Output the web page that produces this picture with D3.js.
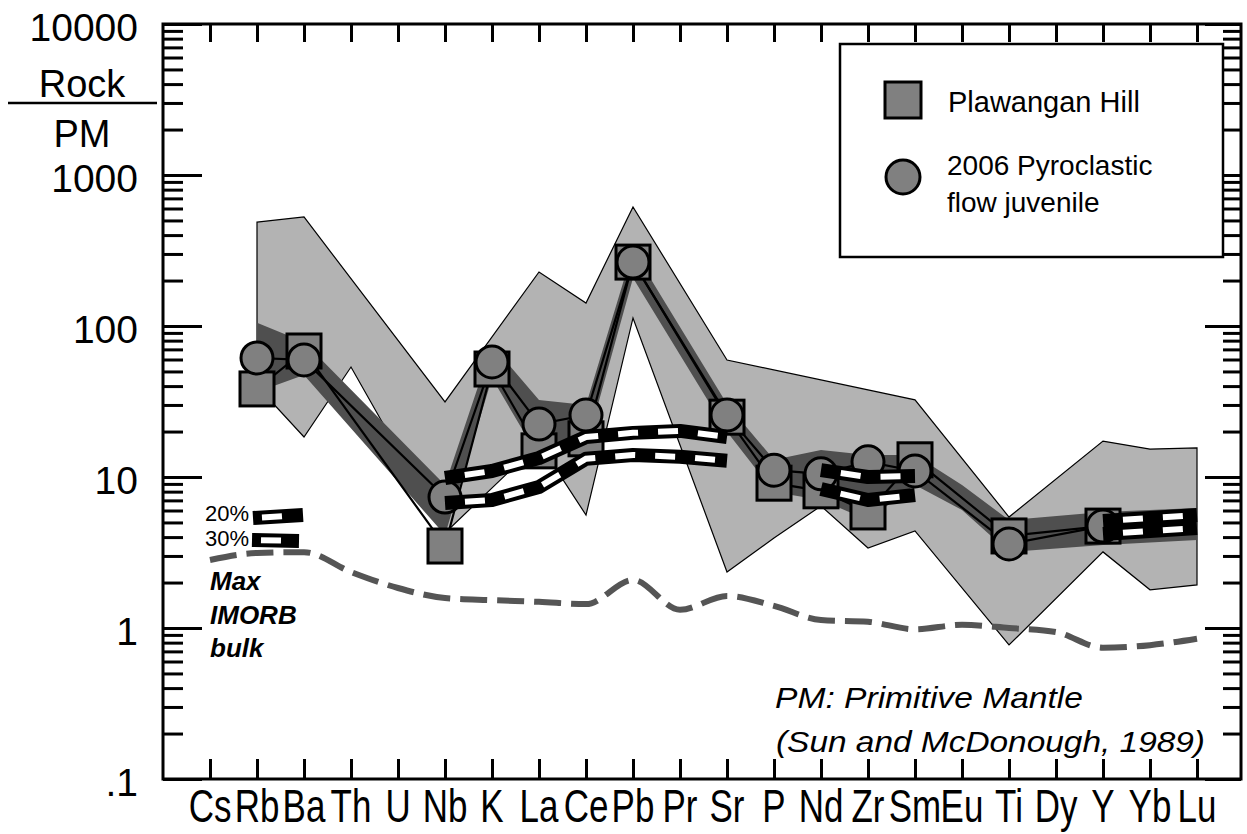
<!DOCTYPE html>
<html>
<head>
<meta charset="utf-8">
<script src="https://cdn.jsdelivr.net/npm/d3@7"></script>
<style>
  html, body { margin: 0; padding: 0; background: #fff; }
  svg { display: block; }
  text { font-family: "Liberation Sans", Arial, Helvetica, sans-serif; fill: #000; }
</style>
</head>
<body>
<svg id="chart" width="1247" height="834"></svg>
<script>
// Primitive-mantle normalised trace element patterns (Sun & McDonough, 1989)
const elements = ["Cs","Rb","Ba","Th","U","Nb","K","La","Ce","Pb","Pr","Sr","P","Nd","Zr","Sm","Eu","Ti","Dy","Y","Yb","Lu"];

// Sample averages (Rock / PM)
const plawanganHill   = [null,38.3,68.3,null,null,3.49,51.9,14.9,17.9,265,null,24.9,9.1,8.1,5.87,13.0,null,4.07,null,4.73,null,null];
const pyroclastic2006 = [null,61.4,59.6,null,null,7.37,57.8,22.4,25.7,265,null,25.7,11.1,10.5,12.6,10.96,null,3.6,null,4.73,null,null];

// Wide envelope of Merapi compositions (light grey field)
const envelopeUpper = [null,488,527,null,null,31.4,null,228,142,614,null,59.5,null,null,null,32.4,null,5.43,null,17.3,15.3,15.6];
const envelopeLower = [null,40.1,18.4,53.5,null,4.26,null,16.8,5.6,113,null,2.35,3.94,6.43,3.39,4.39,null,0.772,null,3.19,1.79,1.93];

// Sample range field (dark grey field)
const rangeUpper = [null,105,78.3,null,null,8.85,74.8,32.4,30.0,319,null,30.4,13.0,15.1,14.0,14.0,8.85,5.19,null,5.87,null,6.23];
const rangeLower = [null,36.5,47.4,null,null,4.13,45.2,13.4,15.6,208,null,19.9,7.96,7.04,5.19,8.85,6.05,3.19,null,3.55,null,3.83];

// Partial melting models of max IMORB bulk composition
const melt20 = [null,null,null,null,null,9.85,10.96,13.36,18.4,19.6,20.2,18.4,null,11.1,10.0,10.15,null,null,null,5.11,5.35,5.60];
const melt30 = [null,null,null,null,null,6.73,7.04,8.59,13.2,14.0,13.6,12.8,null,8.33,7.04,7.60,null,null,null,4.19,4.39,4.59];

// Max IMORB bulk composition
const imorbBulk = [2.82,3.14,3.18,2.35,1.84,1.58,1.53,1.49,1.44,2.08,1.32,1.63,1.40,1.13,1.10,0.98,1.05,1.00,0.94,0.74,0.77,0.85];

// Axis tick labels
const yMajorTicks = [0.1,1,10,100,1000,10000];
const yMajorLabels = [".1","1","10","100","1000","10000"];

const svg = d3.select("#chart");
const frame = {left:163, right:1241, top:24, bottom:779};

const x = d3.scalePoint().domain(elements).range([210,1197]);
const y = d3.scaleLog().domain([0.1,10000]).range([frame.bottom, frame.top]);

const pts = arr => elements.map((e,i)=> arr[i]==null ? null : [x(e), y(arr[i])]).filter(Boolean);

function bandPath(upper, lower){
  const poly = pts(upper).concat(pts(lower).reverse());
  return "M" + poly.map(p=>p.join(",")).join("L") + "Z";
}

// segments broken at missing values
function segments(arr){
  const segs = []; let cur = [];
  elements.forEach((e,i)=>{
    if(arr[i]==null){ if(cur.length) segs.push(cur); cur=[]; }
    else cur.push([x(e), y(arr[i])]);
  });
  if(cur.length) segs.push(cur);
  return segs;
}

const g = svg.append("g");

// light grey envelope
g.append("path").attr("d", bandPath(envelopeUpper, envelopeLower))
  .attr("fill","#b3b3b3").attr("stroke","#000").attr("stroke-width",1.2).attr("stroke-linejoin","miter");

// dark grey sample field
g.append("path").attr("d", bandPath(rangeUpper, rangeLower))
  .attr("fill","#4f4f4f").attr("stroke","none");

// sample average lines
const lineGen = d3.line();
[plawanganHill, pyroclastic2006].forEach(arr=>{
  g.append("path").attr("d", lineGen(pts(arr)))
    .attr("fill","none").attr("stroke","#000").attr("stroke-width",2.2);
});

// square markers
g.selectAll("rect.plaw").data(elements.map((e,i)=>({e, v:plawanganHill[i]})).filter(d=>d.v!=null))
  .enter().append("rect").attr("class","plaw")
  .attr("x", d=>x(d.e)-17).attr("y", d=>y(d.v)-17).attr("width",34).attr("height",34)
  .attr("fill","#808080").attr("stroke","#000").attr("stroke-width",3);

// circle markers
g.selectAll("circle.pyro").data(elements.map((e,i)=>({e, v:pyroclastic2006[i]})).filter(d=>d.v!=null))
  .enter().append("circle").attr("class","pyro")
  .attr("cx", d=>x(d.e)).attr("cy", d=>y(d.v)).attr("r",16)
  .attr("fill","#808080").attr("stroke","#000").attr("stroke-width",3);

// striped melting model lines
function striped(points, offset){
  const d = lineGen(points);
  g.append("path").attr("d", d).attr("fill","none").attr("stroke","#000")
    .attr("stroke-width",14).attr("stroke-linejoin","round");
  g.append("path").attr("d", d).attr("fill","none").attr("stroke","#fff")
    .attr("stroke-width",6).attr("stroke-dasharray","20 20").attr("stroke-dashoffset",offset);
}
[melt20, melt30].forEach(arr=> segments(arr).forEach(s=> striped(s, 20)));

// max IMORB bulk dashed line
g.append("path").attr("d", d3.line().curve(d3.curveMonotoneX)(pts(imorbBulk)))
  .attr("fill","none").attr("stroke","#555").attr("stroke-width",6)
  .attr("stroke-dasharray","27 10");

// axes
const minorTicks = [];
[0.1,1,10,100,1000].forEach(dec=>{ for(let k=2;k<=9;k++) minorTicks.push(dec*k); });

function styleAxis(sel){
  sel.select(".domain").remove();
  sel.selectAll(".tick line").attr("stroke","#000").attr("stroke-width",3);
  sel.selectAll(".tick text").remove();
}
svg.append("g").attr("transform",`translate(${frame.left},0)`)
  .call(d3.axisRight(y).tickValues(minorTicks).tickSize(20)).call(styleAxis);
svg.append("g").attr("transform",`translate(${frame.left},0)`)
  .call(d3.axisRight(y).tickValues(yMajorTicks).tickSize(39)).call(styleAxis);
svg.append("g").attr("transform",`translate(${frame.right},0)`)
  .call(d3.axisLeft(y).tickValues(minorTicks).tickSize(18)).call(styleAxis);
svg.append("g").attr("transform",`translate(${frame.right},0)`)
  .call(d3.axisLeft(y).tickValues(yMajorTicks).tickSize(36)).call(styleAxis);
svg.append("g").attr("transform",`translate(0,${frame.top})`)
  .call(d3.axisBottom(x).tickSize(18)).call(styleAxis);
svg.append("g").attr("transform",`translate(0,${frame.bottom})`)
  .call(d3.axisTop(x).tickSize(20)).call(styleAxis);

// plot frame
svg.append("rect").attr("x",frame.left).attr("y",frame.top)
  .attr("width",frame.right-frame.left).attr("height",frame.bottom-frame.top)
  .attr("fill","none").attr("stroke","#000").attr("stroke-width",3);

// y tick labels
svg.selectAll("text.ylab").data(yMajorTicks).enter().append("text").attr("class","ylab")
  .attr("x",138).attr("y", d=>y(d)+17).attr("text-anchor","end")
  .attr("font-size",39).text((d,i)=>yMajorLabels[i]);

// x category labels (condensed)
svg.selectAll("text.xlab").data(elements).enter().append("text").attr("class","xlab")
  .attr("transform", d=>`translate(${x(d)},822) scale(0.76,1)`)
  .attr("text-anchor","middle").attr("font-size",46).text(d=>d);

// y axis title (Rock / PM)
svg.append("text").attr("x",82).attr("y",97).attr("text-anchor","middle").attr("font-size",38).text("Rock");
svg.append("line").attr("x1",8).attr("x2",157).attr("y1",103).attr("y2",103).attr("stroke","#000").attr("stroke-width",2.5);
svg.append("text").attr("x",82).attr("y",147).attr("text-anchor","middle").attr("font-size",38).text("PM");

// melting model key
function keyBar(x1,y1,x2,y2){
  const d = `M${x1},${y1}L${x2},${y2}`;
  svg.append("path").attr("d",d).attr("stroke","#000").attr("stroke-width",14);
  svg.append("path").attr("d",d).attr("stroke","#fff").attr("stroke-width",6)
    .attr("stroke-dasharray","20 30").attr("stroke-dashoffset",-9);
}
keyBar(253,518,303,515);
keyBar(252,540,299,541);
svg.append("text").attr("x",249).attr("y",521).attr("text-anchor","end").attr("font-size",22).text("20%");
svg.append("text").attr("x",249).attr("y",546).attr("text-anchor","end").attr("font-size",22).text("30%");

// IMORB label
[["Max",590],["IMORB",624],["bulk",657]].forEach(([t,yy])=>{
  svg.append("text").attr("x",210).attr("y",yy).attr("font-size",26)
    .attr("font-weight","bold").attr("font-style","italic").text(t);
});

// normalisation note
svg.append("text").attr("x",775).attr("y",708).attr("font-size",29).attr("font-style","italic")
  .attr("textLength",308).attr("lengthAdjust","spacingAndGlyphs").text("PM: Primitive Mantle");
svg.append("text").attr("x",776).attr("y",752).attr("font-size",29).attr("font-style","italic")
  .attr("textLength",429).attr("lengthAdjust","spacingAndGlyphs").text("(Sun and McDonough, 1989)");

// legend
const lg = svg.append("g");
lg.append("rect").attr("x",840).attr("y",44).attr("width",383).attr("height",213)
  .attr("fill","#fff").attr("stroke","#000").attr("stroke-width",2.5);
lg.append("rect").attr("x",885).attr("y",82).attr("width",36).attr("height",36)
  .attr("fill","#808080").attr("stroke","#000").attr("stroke-width",3);
lg.append("circle").attr("cx",903).attr("cy",177).attr("r",17)
  .attr("fill","#808080").attr("stroke","#000").attr("stroke-width",3);
lg.append("text").attr("x",948).attr("y",112).attr("font-size",29).text("Plawangan Hill");
lg.append("text").attr("x",947).attr("y",175).attr("font-size",28).text("2006 Pyroclastic");
lg.append("text").attr("x",947).attr("y",212).attr("font-size",28).text("flow juvenile");
</script>
</body>
</html>
